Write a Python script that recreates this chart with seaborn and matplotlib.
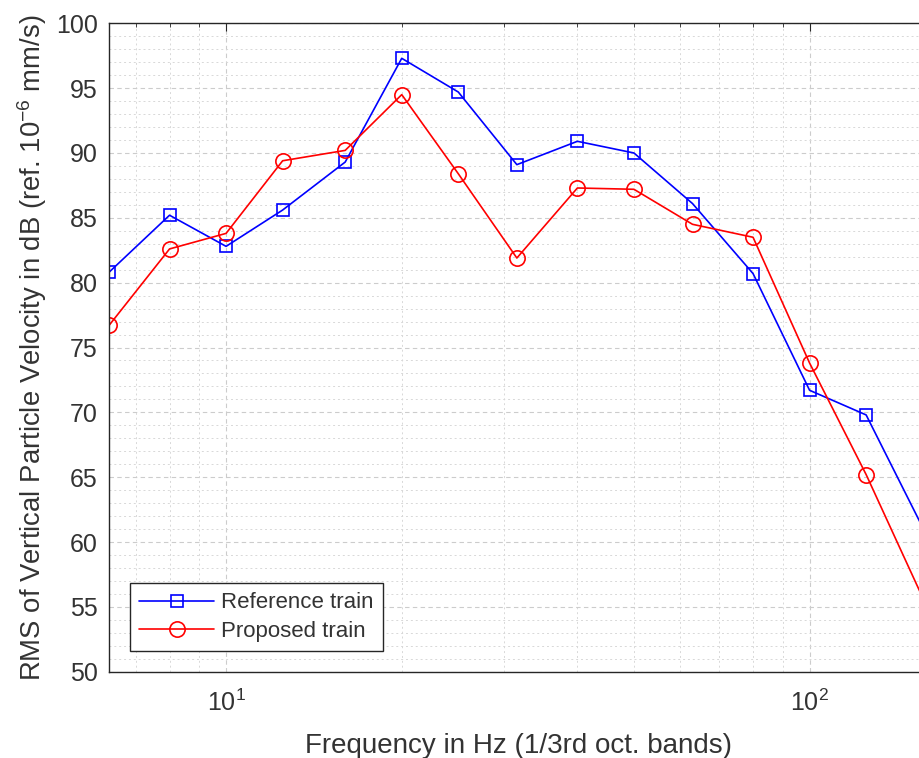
import numpy as np
import pandas as pd
import matplotlib
matplotlib.use("Agg")
import matplotlib.pyplot as plt
import seaborn as sns
from matplotlib.ticker import LogLocator, MultipleLocator, NullFormatter

freqs = [6.3, 8, 10, 12.5, 16, 20, 25, 31.5, 40, 50, 63, 80, 100, 125, 160]
reference_train = [80.8, 85.2, 82.8, 85.6, 89.3, 97.3, 94.7, 89.1, 90.9, 90.0, 86.1, 80.7, 71.7, 69.8, 60.2]
proposed_train = [76.7, 82.6, 83.8, 89.4, 90.2, 94.5, 88.4, 81.9, 87.3, 87.2, 84.5, 83.5, 73.8, 65.2, 54.7]
series_names = ["Reference train", "Proposed train"]
y_ticks = [50, 55, 60, 65, 70, 75, 80, 85, 90, 95, 100]

sns.set_theme(style="white")
plt.rcParams['font.family'] = ['Liberation Sans', 'DejaVu Sans']
plt.rcParams['mathtext.fontset'] = 'custom'
plt.rcParams['mathtext.rm'] = 'Liberation Sans'
plt.rcParams['mathtext.it'] = 'Liberation Sans'

df = pd.DataFrame({
    "freq": freqs * 2,
    "val": reference_train + proposed_train,
    "series": [series_names[0]] * len(freqs) + [series_names[1]] * len(freqs),
})

fig = plt.figure(figsize=(9.19, 7.58), dpi=100)
ax = fig.add_axes([109 / 919, 86.3 / 758, (928.7 - 109) / 919, (671.7 - 23.3) / 758])

text_c = "#333333"
sns.lineplot(data=df, x="freq", y="val", hue="series", style="series",
             palette={series_names[0]: "#0000ff", series_names[1]: "#ff0000"},
             markers={series_names[0]: "s", series_names[1]: "o"},
             dashes=False, ax=ax, legend=False, linewidth=1.2, clip_on=True)

for ln, ms in zip(ax.lines, [9, 11]):
    c = ln.get_color()
    ln.set_markerfacecolor("none")
    ln.set_markeredgecolor(c)
    ln.set_markeredgewidth(1.2)
    ln.set_markersize(ms)

ax.set_xscale("log")
ax.set_xlim(6.3, 160)
ax.set_ylim(50, 100)
ax.set_yticks(y_ticks)
ax.yaxis.set_minor_locator(MultipleLocator(1))
ax.xaxis.set_major_locator(LogLocator(base=10))
ax.xaxis.set_minor_locator(LogLocator(base=10, subs=np.arange(2, 10)))
ax.xaxis.set_minor_formatter(NullFormatter())

ax.grid(True, which="major", color="#cccccc", linestyle=(0, (4, 3)), linewidth=0.8)
ax.grid(True, which="minor", color="#d8d8d8", linestyle=(0, (2, 3)), linewidth=0.7)
ax.set_axisbelow(True)

for s in ax.spines.values():
    s.set_color("#262626")
    s.set_linewidth(1.0)
    s.set_visible(True)

ax.tick_params(axis="both", which="both", direction="in", top=True, right=True,
               colors="#262626", labelcolor=text_c)
ax.tick_params(axis="both", which="major", length=6, labelsize=18, width=0.8)
ax.tick_params(axis="both", which="minor", length=3, width=0.6)
ax.tick_params(axis="y", which="minor", left=False, right=False)
ax.tick_params(axis="y", which="major", pad=8)
ax.tick_params(axis="x", which="major", pad=13)

ax.set_xlabel("Frequency in Hz (1/3rd oct. bands)", fontsize=20, color=text_c, labelpad=12)
ax.set_ylabel("RMS of Vertical Particle Velocity in dB (ref. 10$^{-6}$ mm/s)",
              fontsize=19.8, color=text_c, labelpad=5)

handles = ax.lines[:2]
leg = ax.legend(handles, series_names, loc="lower left", bbox_to_anchor=(130 / 919, 107 / 758),
                bbox_transform=fig.transFigure, fontsize=16, frameon=True, fancybox=False,
                edgecolor="#262626", framealpha=1, handlelength=3.4, borderpad=0.4,
                labelspacing=0.35, handletextpad=0.3, borderaxespad=0)
leg.get_frame().set_linewidth(1.0)
for t in leg.get_texts():
    t.set_color(text_c)

fig.savefig("out.png", dpi=100)
